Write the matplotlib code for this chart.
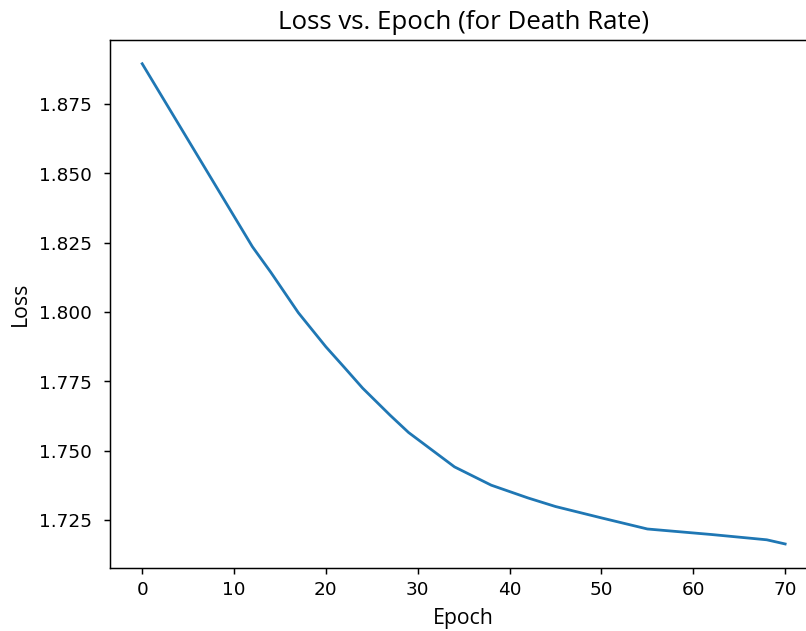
import matplotlib.pyplot as plt

# epoch / loss values
epochs = [0, 12, 14, 17, 20, 22, 24, 27, 29, 34, 38, 42, 45, 50, 55, 62, 68, 70]
loss = [1.8895, 1.8235, 1.8143, 1.7997, 1.7874, 1.7800, 1.7725, 1.7627, 1.7565,
        1.7441, 1.7375, 1.7329, 1.7298, 1.7257, 1.7217, 1.7197, 1.7178, 1.7163]

W, H, DPI = 806, 631, 133
fig = plt.figure(figsize=((W + 0.3) / DPI, (H + 0.3) / DPI), dpi=DPI)
# axes runs a bit past the right edge, like the cropped original
ax = fig.add_axes([110 / W, 63 / H, 707 / W, 528 / H])

ax.plot(epochs, loss)
ax.tick_params(axis="y", pad=6.5)
ax.spines["right"].set_visible(False)  # it lies outside the cropped picture

lab_font = {"family": ["Open Sans", "DejaVu Sans"]}
ax.set_xlabel("Epoch", fontdict=lab_font, fontsize=11.5, labelpad=5)
ax.set_ylabel("Loss", fontdict=lab_font, fontsize=11.5)
ax.set_title("Loss vs. Epoch (for Death Rate)", fontdict=lab_font, fontsize=14)

fig.savefig("out.png", dpi=DPI)
